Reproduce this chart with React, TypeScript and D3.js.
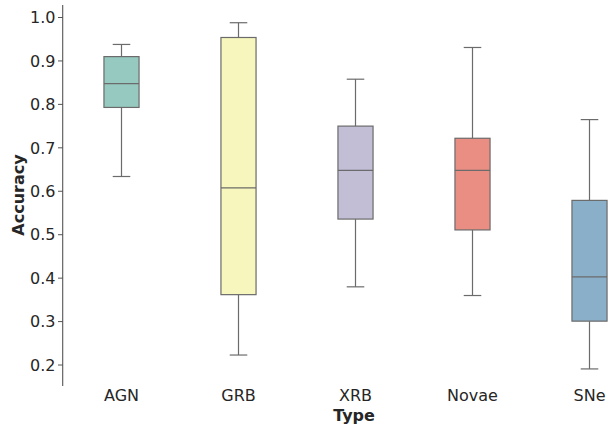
import React from "react";
import * as d3 from "d3";

const categories = ["AGN", "GRB", "XRB", "Novae", "SNe"];
const whiskerLow = [0.634, 0.223, 0.380, 0.360, 0.191];
const q1 = [0.793, 0.362, 0.536, 0.511, 0.301];
const median = [0.848, 0.608, 0.648, 0.648, 0.403];
const q3 = [0.910, 0.954, 0.750, 0.722, 0.579];
const whiskerHigh = [0.938, 0.988, 0.858, 0.931, 0.765];
const colors = ["#96cac1", "#f6f6bd", "#c1bed6", "#ea8e83", "#8aafc9"];
const yTicks = [0.2, 0.3, 0.4, 0.5, 0.6, 0.7, 0.8, 0.9, 1.0];

const W = 608;
const H = 427;

export default function App() {
  const axisX = 63;
  const step = 117;
  const x = d3
    .scaleBand<string>()
    .domain(categories)
    .range([axisX, axisX + step * categories.length])
    .paddingInner(0)
    .paddingOuter(0);
  const y = d3.scaleLinear().domain([0.1517, 1.0288]).range([386, 5]);
  const boxW = step * 0.3;
  const capW = boxW / 2;
  const stroke = "#6b6b6b";
  const font = "DejaVu Sans, sans-serif";

  return (
    <svg
      width={W}
      height={H}
      style={{ position: "absolute", left: 0, top: 0, background: "#fff" }}
      fontFamily={font}
    >
      <rect x={0} y={0} width={W} height={H} fill="#fff" />
      {categories.map((c, i) => {
        const cx = (x(c) as number) + x.bandwidth() / 2;
        return (
          <g key={c}>
            <line x1={cx} x2={cx} y1={y(q3[i])} y2={y(whiskerHigh[i])} stroke={stroke} strokeWidth={1.2} />
            <line x1={cx} x2={cx} y1={y(q1[i])} y2={y(whiskerLow[i])} stroke={stroke} strokeWidth={1.2} />
            <line x1={cx - capW / 2} x2={cx + capW / 2} y1={y(whiskerHigh[i])} y2={y(whiskerHigh[i])} stroke={stroke} strokeWidth={1.2} />
            <line x1={cx - capW / 2} x2={cx + capW / 2} y1={y(whiskerLow[i])} y2={y(whiskerLow[i])} stroke={stroke} strokeWidth={1.2} />
            <rect
              x={cx - boxW / 2}
              y={y(q3[i])}
              width={boxW}
              height={y(q1[i]) - y(q3[i])}
              fill={colors[i]}
              stroke={stroke}
              strokeWidth={1.2}
            />
            <line x1={cx - boxW / 2} x2={cx + boxW / 2} y1={y(median[i])} y2={y(median[i])} stroke={stroke} strokeWidth={1.2} />
            <text x={cx} y={401} textAnchor="middle" fontSize={16} fill="#262626">
              {c}
            </text>
          </g>
        );
      })}
      <line x1={axisX - 0.3} x2={axisX - 0.3} y1={5} y2={386} stroke="#555" strokeWidth={1.1} />
      {yTicks.map((t) => (
        <g key={t}>
          <line x1={axisX - 5} x2={axisX} y1={y(t)} y2={y(t)} stroke="#555" strokeWidth={1} />
          <text x={axisX - 7.5} y={y(t)} dy="0.36em" textAnchor="end" fontSize={16} fill="#262626">
            {t.toFixed(1)}
          </text>
        </g>
      ))}
      <text
        transform={`translate(24,195) rotate(-90)`}
        textAnchor="middle"
        fontSize={16}
        fontWeight="bold"
        fill="#262626"
      >
        Accuracy
      </text>
      <text x={354} y={420.5} textAnchor="middle" fontSize={16} fontWeight="bold" fill="#262626">
        Type
      </text>
    </svg>
  );
}
